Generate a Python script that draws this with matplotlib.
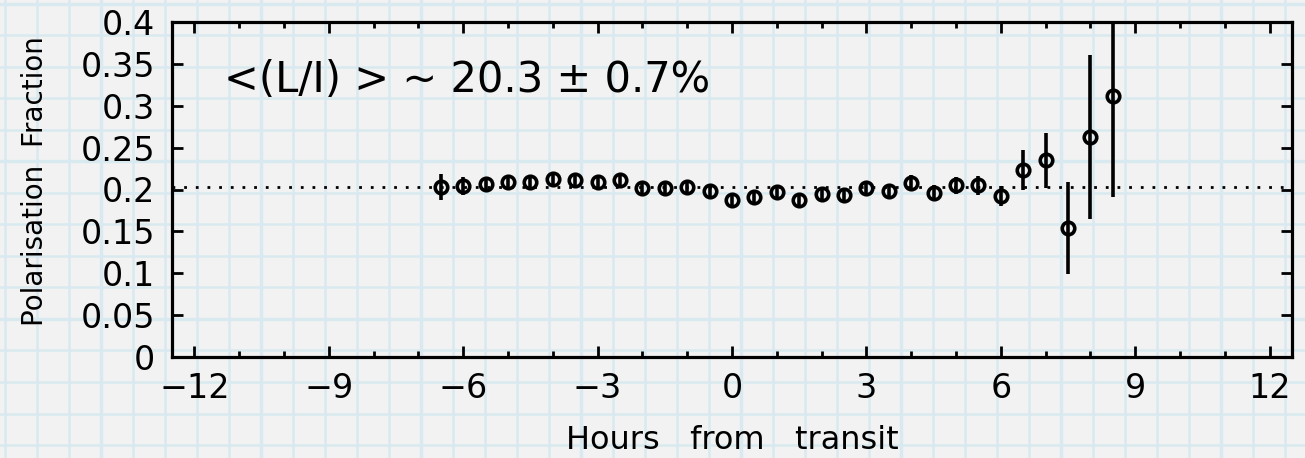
import numpy as np
import matplotlib
matplotlib.use("Agg")
import matplotlib.pyplot as plt
from matplotlib.ticker import MultipleLocator, FixedLocator

# ---- data ----
hours = [-6.5, -6.0, -5.5, -5.0, -4.5, -4.0, -3.5, -3.0, -2.5, -2.0, -1.5, -1.0, -0.5,
         0.0, 0.5, 1.0, 1.5, 2.0, 2.5, 3.0, 3.5, 4.0, 4.5, 5.0, 5.5, 6.0, 6.5, 7.0, 7.5, 8.0, 8.5]
pol_frac = [0.203, 0.204, 0.207, 0.209, 0.209, 0.212, 0.211, 0.209, 0.211, 0.202, 0.202, 0.203, 0.198,
            0.188, 0.191, 0.197, 0.187, 0.195, 0.194, 0.202, 0.198, 0.208, 0.196, 0.205, 0.205, 0.192,
            0.223, 0.235, 0.154, 0.263, 0.312]
pol_err = [0.016, 0.011, 0.008, 0.007, 0.007, 0.008, 0.007, 0.007, 0.008, 0.007, 0.007, 0.007, 0.007,
           0.007, 0.007, 0.007, 0.007, 0.007, 0.007, 0.008, 0.008, 0.009, 0.009, 0.010, 0.011, 0.012,
           0.024, 0.033, 0.055, 0.098, 0.121]
mean_frac = 0.203
annotation = "<(L/I) > ~ 20.3 \u00b1 0.7%"
xticks = [-12, -9, -6, -3, 0, 3, 6, 9, 12]
yticks = [0, 0.05, 0.1, 0.15, 0.2, 0.25, 0.3, 0.35, 0.4]
ytick_labels = ["0", "0.05", "0.1", "0.15", "0.2", "0.25", "0.3", "0.35", "0.4"]

plt.rcParams['font.family'] = ['DejaVu Sans']

W, H = 1305, 458
fig = plt.figure(figsize=(W / 100, H / 100), dpi=100)
fig.patch.set_facecolor('#f2f2f2')

# graph-paper background
bg = fig.add_axes([0, 0, 1, 1], zorder=-10)
bg.set_xlim(0, W)
bg.set_ylim(H, 0)
bg.axis('off')
grid_col = '#d8e9ef'
for i, gx in enumerate(np.arange(4.5, W, 32.0)):
    bg.axvline(gx, color=grid_col, lw=2.4 if i % 5 == 3 else 1.8, zorder=0)
for i, gy in enumerate(np.arange(3.5, H, 31.54)):
    bg.axhline(gy, color=grid_col, lw=2.4 if i % 5 == 0 else 1.8, zorder=0)

ax = fig.add_axes([172 / W, 1 - 357 / H, (1292 - 172) / W, (357 - 22) / H])
ax.patch.set_alpha(0)

ax.axhline(mean_frac, color='black', lw=2.0, linestyle=(0, (1, 3.2)), zorder=1)
ax.errorbar(hours, pol_frac, yerr=pol_err, fmt='o', color='black', mfc='none',
            mec='black', ms=9, mew=2.6, elinewidth=2.6, capsize=0, zorder=3)

ax.set_xlim(-12.5, 12.5)
ax.set_ylim(0, 0.4)
ax.xaxis.set_major_locator(FixedLocator(xticks))
ax.xaxis.set_minor_locator(MultipleLocator(1))
ax.set_xticklabels(["\u2212" + str(abs(t)) if t < 0 else str(t) for t in xticks])
ax.yaxis.set_major_locator(FixedLocator(yticks))
ax.set_yticklabels(ytick_labels)

for s in ax.spines.values():
    s.set_linewidth(2.3)
ax.tick_params(which='major', direction='in', length=8, width=2, top=True, right=True,
               labelsize=24, pad=12)
ax.tick_params(axis='x', which='major', pad=11)
ax.tick_params(which='minor', direction='in', length=4, width=2, top=True, right=True)
ax.tick_params(axis='y', which='minor', left=False, right=False)

ax.set_xlabel("Hours   from   transit", fontsize=23)
ax.xaxis.set_label_coords(0.5, -0.248)
ax.xaxis.label.set_va('center')
ax.set_ylabel("Polarisation  Fraction", fontsize=20)
ax.yaxis.set_label_coords(-0.122, 0.525)
ax.yaxis.label.set_va('center')

ax.text(-11.35, 0.331, annotation, fontsize=30, va='center', ha='left')

fig.savefig("out.png", dpi=100, facecolor=fig.get_facecolor())
